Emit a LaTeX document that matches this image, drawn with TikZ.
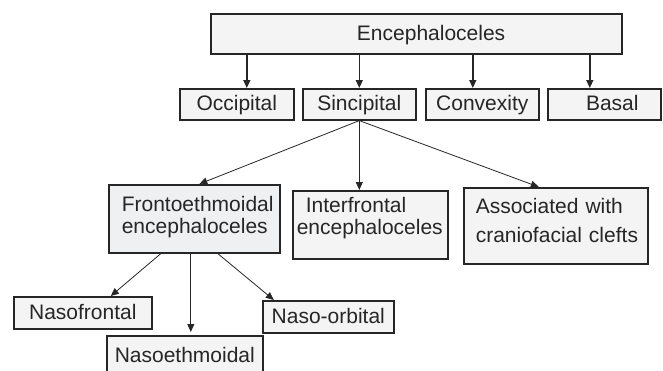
\documentclass[tikz,border=0pt]{standalone}
\usepackage{fontspec}
\setmainfont{Liberation Sans}
\usepackage{tikz}
\usetikzlibrary{calc, positioning}
\usetikzlibrary{arrows.meta}
\definecolor{boxline}{HTML}{262626}
\definecolor{boxfill}{HTML}{F4F4F4}
\definecolor{frontofill}{HTML}{EEF0F2}
\definecolor{inkgray}{HTML}{262626}
\tikzset{
    x=1pt, y=-1pt, % one unit is one pixel of the page, y runs downwards
    box/.style = {draw=boxline, line width=1.6pt, fill=boxfill, text=inkgray, font=\fontsize{21}{22}\selectfont, inner sep=0pt, anchor=north west}, % every box is placed by its top left corner
    single/.style = {box, text height=15pt, text depth=2pt}, % one line of text, centred
    multi/.style = {box, align=left, inner ysep=0pt}, % two lines, set from the top
    arr/.style = {draw=inkgray, line width=0.8pt, -{Triangle[length=8pt, width=7pt]}},
    toparr/.style = {arr, line width=1.4pt}
}

\begin{document}
\begin{tikzpicture}
    \useasboundingbox (0,0) rectangle (663,370);
    % first level
    \node [single, line width=2.2pt, minimum width=411pt, minimum height=40pt] (enc) at (210,13) {\hspace*{29pt}Encephaloceles};
    \node [single, minimum width=114pt, minimum height=31pt] (occ) at (179,88) {Occipital};
    \node [single, minimum width=113pt, minimum height=31pt] (sinc) at (302,88) {Sincipital};
    \node [single, minimum width=113pt, minimum height=31pt] (conv) at (425,88) {Convexity};
    \node [single, minimum width=113pt, minimum height=31pt] (basal) at (547,88) {\hspace*{16pt}Basal};
    % sincipital
    \node [multi, fill=frontofill, inner xsep=13pt, text width=145pt, text height=26.5pt, text depth=41.5pt] (fronto) at (108,184) {Frontoethmoidal\\encephaloceles};
    \node [multi, inner xsep=4pt, text width=147pt, text height=21.7pt, text depth=46.3pt] (inter) at (292,190) {\hspace*{9pt}Interfrontal\\encephaloceles};
    \node [multi, inner xsep=12pt, text width=160pt, text height=25.3pt, text depth=50.7pt] (assoc) at (463,187) {Associated with\\[7pt]\mbox{craniofacial clefts}};
    % frontoethmoidal
    \node [single, minimum width=138pt, minimum height=32pt] (nfront) at (13,296) {Nasofrontal};
    \node [single, minimum width=131pt, minimum height=32pt] (norb) at (262,300) {Naso-orbital};
    \node [single, minimum width=156pt, minimum height=40pt] (neth) at (106,335) {Nasoethmoidal};

    \draw [toparr] ([xshift=10pt]occ.north |- enc.south) -- ([xshift=10pt]occ.north);
    \draw [toparr] (sinc.north |- enc.south) -- (sinc.north);
    \draw [toparr] ([xshift=-9.5pt]conv.north |- enc.south) -- ([xshift=-9.5pt]conv.north);
    \draw [toparr] ([xshift=-14.5pt]basal.north |- enc.south) -- ([xshift=-14.5pt]basal.north);

    \draw [arr] (sinc.south) -- ([xshift=5pt]fronto.north);
    \draw [arr] (sinc.south) -- (sinc.south |- inter.north);
    \draw [arr] (sinc.south) -- ([xshift=-17pt]assoc.north);

    \draw [arr] ([xshift=-33.5pt]fronto.south) -- ([xshift=28pt]nfront.north);
    \draw [arr] ([xshift=-3.5pt]fronto.south) -- ([xshift=-3.5pt, yshift=3pt]fronto.south |- neth.north);
    \draw [arr] ([xshift=23.5pt]fronto.south) -- ([xshift=-54.5pt]norb.north);
\end{tikzpicture}
\end{document}
